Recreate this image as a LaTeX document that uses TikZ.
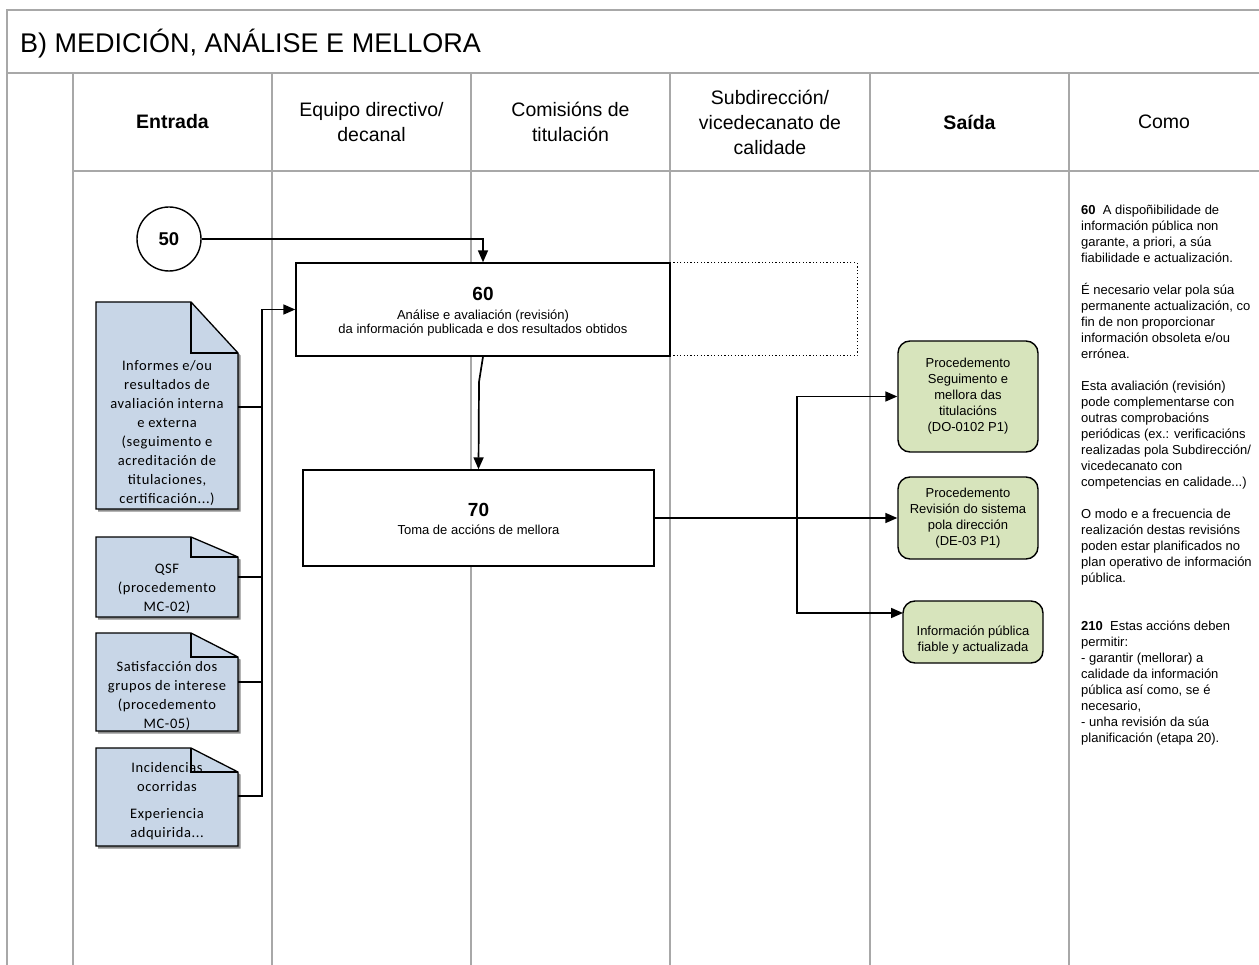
\documentclass[tikz,border=0pt]{standalone}
\usepackage{fontspec}
\setmainfont{Liberation Sans}
\newfontfamily\calib[LetterSpace=4]{Carlito}
\usetikzlibrary{arrows.meta}
\definecolor{gridc}{RGB}{168,168,168}
\definecolor{docblue}{RGB}{200,214,231}
\definecolor{outgreen}{RGB}{215,228,188}
\tikzset{
  gridline/.style={draw=gridc, line width=1.6pt},
  proc/.style={draw=black, line width=1.4pt, fill=white, inner sep=0pt},
  conn/.style={draw=black, line width=1.7pt},
  arr/.style={conn, -{Triangle[length=12pt,width=10pt]}},
  outbox/.style={draw=black, line width=1.4pt, fill=outgreen, rounded corners=12pt,
    align=center, inner sep=0pt, font=\fontsize{13}{16}\selectfont},
  outtext/.style={align=center, inner sep=0pt, font=\fontsize{13}{16}\selectfont},
  hdr/.style={align=center, font=\fontsize{19.5}{25}\selectfont},
  doctext/.style={align=center, inner sep=0pt, font=\calib\fontsize{14.5}{19}\selectfont},
  notetext/.style={align=left, anchor=north west, inner sep=0pt, font=\fontsize{13}{16}\selectfont},
  numtext/.style={font=\fontsize{19}{19}\selectfont\bfseries, inner sep=0pt},
  subtext/.style={align=center, inner sep=0pt, font=\fontsize{13}{13.5}\selectfont},
}
\newcommand{\drawdocbody}[3]{%
  \fill[black!45] (98,#1+2.5) -- (193,#1+2.5) -- (240.5,#3+2.5) -- (240.5,#2+2.5) -- (98,#2+2.5) -- cycle;
  \draw[fill=docblue, line width=1.3pt, line join=miter] (96,#1) -- (191,#1) -- (238,#3) -- (238,#2) -- (96,#2) -- cycle;
}
\newcommand{\drawdocfold}[2]{%
  \draw[line width=2.4pt, line join=miter] (191,#1) -- (191,#2) -- (238,#2);
}
\begin{document}
\begin{tikzpicture}[x=1pt,y=-1pt]
\useasboundingbox (0,0) rectangle (1259,965);
% frame
\draw[gridline] (7,965) -- (7,10) -- (1262,10);
\draw[gridline] (7,73) -- (1262,73);
\draw[gridline] (73,73) -- (73,968);
\draw[gridline] (73,171) -- (1262,171);
\foreach \xx in {272,471,670,870,1069} \draw[gridline] (\xx,73) -- (\xx,968);
% title and headers
\node (title) [anchor=base west, inner sep=0pt, font=\fontsize{27}{31}\selectfont] at (20,53) {B) MEDICIÓN, ANÁLISE E MELLORA};
\node (h1) [hdr, font=\fontsize{19.5}{25}\selectfont\bfseries] at (172.5,122) {Entrada};
\node (h2) [hdr] at (371.5,122) {Equipo directivo/\\decanal};
\node (h3) [hdr] at (570.5,122) {Comisións de\\titulación};
\node (h4) [hdr] at (770,122) {Subdirección/\\vicedecanato de\\calidade};
\node (h5) [hdr, font=\fontsize{19.5}{25}\selectfont\bfseries] at (969.5,122) {Saída};
\node (h6) [hdr] at (1164,122) {Como};
% process boxes
\node (c50) [circle, draw=black, line width=1.4pt, fill=white, minimum size=64pt, inner sep=0pt, font=\fontsize{18.5}{18.5}\selectfont\bfseries] at (169,239) {50};
\node (b60) [proc, minimum width=374pt, minimum height=93pt] at (483,309.5) {};
\node (b60n) [numtext] at (483,293.5) {60};
\node (b60t) [subtext] at (483,323) {Análise e avaliación (revisión)\\da información publicada e dos resultados obtidos};
\node (dot) [draw=black, line width=1pt, dash pattern=on 1.2pt off 2.2pt, minimum width=187pt, minimum height=93pt, inner sep=0pt] at (763.5,309.5) {};
\node (b70) [proc, minimum width=351pt, minimum height=96pt] at (478.5,518) {};
\node (b70n) [numtext] at (478.5,510) {70};
\node (b70t) [subtext] at (478.5,529.5) {Toma de accións de mellora};
% outputs
\node (o1) [outbox, minimum width=140pt, minimum height=111pt] at (968,396.5) {Procedemento\\Seguimento e\\mellora das\\titulacións\\(DO-0102 P1)};
\node (o2) [outbox, minimum width=140pt, minimum height=82pt] at (968,518) {Procedemento\\Revisión do sistema\\pola dirección\\(DE-03 P1)};
\node (o3) [outbox, minimum width=140pt, minimum height=62pt] at (973,632) {};
\node (o3t) [outtext] at (973,640) {Información pública\\fiable y actualizada};
% documents
\drawdocbody{302}{509}{353}
\drawdocbody{537}{617}{557}
\drawdocbody{633}{731}{657}
\drawdocbody{748}{846}{772}
\node (d1t) [doctext] at (167,433) {Informes e/ou\\resultados de\\avaliación interna\\e externa\\(seguimento e\\acreditación de\\titulaciones,\\certificación...)};
\node (d2t) [doctext] at (167,588.5) {QSF\\(procedemento\\MC-02)};
\node (d3t) [doctext] at (167,696) {Satisfacción dos\\grupos de interese\\(procedemento\\MC-05)};
\node (d4t) [doctext] at (167,801) {Incidencias\\ocorridas\\[8pt]Experiencia\\adquirida...};
\drawdocfold{302}{353}
\drawdocfold{537}{557}
\drawdocfold{633}{657}
\drawdocfold{748}{772}
% connector points
\coordinate (d1) at (238,407);
\coordinate (d2) at (238,577);
\coordinate (d3) at (238,682);
\coordinate (d4) at (238,796);
\coordinate (bustop) at (262,309.5);
\coordinate (kink) at (479,382);
\coordinate (split) at (797,518);
\coordinate (o3in) at (903,613);
% connectors
\draw[arr] (c50.east) -| (b60.north);
\draw[arr] (d4) -| (bustop) -- (b60.west);
\draw[conn] (d1) -- (d1 -| bustop);
\draw[conn] (d2) -- (d2 -| bustop);
\draw[conn] (d3) -- (d3 -| bustop);
\draw[arr] (b60.south) -- (kink) -- (b70.north);
\draw[arr] (b70.east) -- (o2.west);
\draw[arr] (split) |- (o1.west);
\draw[arr] (split) |- (o3in);
% notes
\node (notes) [notetext] at (1081,205) {{\bfseries 60}\ \ A dispoñibilidade de\\
información pública non\\
garante, a priori, a súa\\
fiabilidade e actualización.\\[16pt]
É necesario velar pola súa\\
permanente actualización, co\\
fin de non proporcionar\\
información obsoleta e/ou\\
errónea.\\[16pt]
Esta avaliación (revisión)\\
pode complementarse con\\
outras comprobacións\\
periódicas (ex.: verificacións\\
realizadas pola Subdirección/\\
vicedecanato con\\
competencias en calidade...)\\[16pt]
O modo e a frecuencia de\\
realización destas revisións\\
poden estar planificados no\\
plan operativo de información\\
pública.\\[32pt]
{\bfseries 210}\ \ Estas accións deben\\
permitir:\\
- garantir (mellorar) a\\
calidade da información\\
pública así como, se é\\
necesario,\\
- unha revisión da súa\\
planificación (etapa 20).};
\end{tikzpicture}
\end{document}
